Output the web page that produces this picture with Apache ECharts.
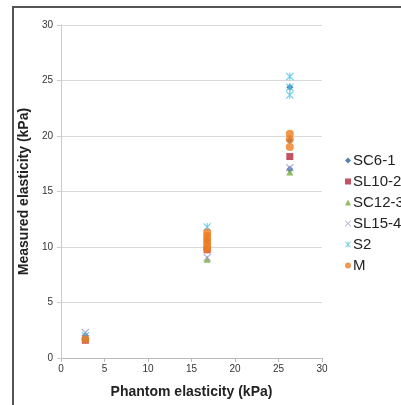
<!DOCTYPE html>
<html>
<head>
<meta charset="utf-8">
<script src="https://cdn.jsdelivr.net/npm/echarts@6/dist/echarts.min.js"></script>
<style>
html, body { margin: 0; padding: 0; background: #fff; }
#chart { width: 401px; height: 405px; }
</style>
</head>
<body>
<div id="chart"></div>
<script>
// phantom elasticity of each phantom (kPa)
var phantoms = [2.8, 16.8, 26.3];
var xTicks = [0, 5, 10, 15, 20, 25, 30];
var yTicks = [0, 5, 10, 15, 20, 25, 30];

// measured values, one list per phantom
var sc61 = [[2.0], [10.6], [19.6, 24.4, 17.0]];
var sl102 = [[1.6], [9.75], [18.15]];
var sc123 = [[1.8], [8.9], [16.75]];
var sl154 = [[2.3], [9.05], [17.15]];
var s2 = [[2.0], [11.8, 10.05], [25.35, 24.4, 23.7]];
var m = [[1.7], [11.3, 11.0, 10.7, 10.4, 10.1, 9.8], [20.2, 19.7, 19.0]];

function toPoints(vals){
	var pts = [];
	for (var i = 0; i < vals.length; i++) {
		for (var j = 0; j < vals[i].length; j++) {
			pts.push([phantoms[i], vals[i][j]]);
		}
	}
	return pts;
}

var crossPath = 'path://M0,1L1,0L5,4L9,0L10,1L6,5L10,9L9,10L5,6L1,10L0,9L4,5Z';
var starPath = 'path://M0,1L1,0L4.3,3.3L4.3,0L5.7,0L5.7,3.3L9,0L10,1L6,5L10,9L9,10L5.7,6.7L5.7,10L4.3,10L4.3,6.7L1,10L0,9L4,5Z';

var seriesDefs = [
	{name: 'SC6-1', data: sc61, symbol: 'diamond', color: '#2463a8', size: 7},
	{name: 'SL10-2', data: sl102, symbol: 'rect', color: '#b3283a', size: 7},
	{name: 'SC12-3', data: sc123, symbol: 'triangle', color: '#76ad3c', size: 7},
	{name: 'SL15-4', data: sl154, symbol: crossPath, color: '#9d94cc', size: 8},
	{name: 'S2', data: s2, symbol: starPath, color: '#4cc0e4', size: 8},
	{name: 'M', data: m, symbol: 'circle', color: '#ee7d22', size: 8}
];

var font = 'Arial, "Liberation Sans", sans-serif';
var chart = echarts.init(document.getElementById('chart'));

var series = seriesDefs.map(function(d){
	return {
		name: d.name,
		type: 'scatter',
		symbol: d.symbol,
		symbolSize: d.size,
		itemStyle: {color: d.color},
		data: toPoints(d.data)
	};
});

chart.setOption({
	animation: false,
	textStyle: {fontFamily: font},
	graphic: [{
		type: 'rect',
		shape: {x: 13, y: 7, width: 420, height: 420},
		style: {fill: 'none', stroke: '#555', lineWidth: 2},
		silent: true
	}],
	grid: {left: 61, right: 79, top: 25, bottom: 47},
	legend: {
		orient: 'vertical',
		left: 340,
		top: 148,
		itemWidth: 6,
		itemHeight: 6,
		itemGap: 6,
		textStyle: {fontSize: 15, color: '#222', fontFamily: font, padding: [0, 0, 0, -3]},
		data: seriesDefs.map(function(d){ return d.name; })
	},
	xAxis: {
		type: 'value',
		min: xTicks[0],
		max: xTicks[xTicks.length - 1],
		interval: 5,
		name: 'Phantom elasticity (kPa)',
		nameLocation: 'middle',
		nameGap: 27,
		nameTextStyle: {fontSize: 14, fontWeight: 'bold', color: '#222', fontFamily: font},
		axisLine: {lineStyle: {color: '#bbb'}},
		axisTick: {show: true, length: 4, lineStyle: {color: '#bbb'}},
		axisLabel: {fontSize: 10, color: '#333', margin: 6},
		splitLine: {show: false}
	},
	yAxis: {
		type: 'value',
		min: yTicks[0],
		max: yTicks[yTicks.length - 1],
		interval: 5,
		name: 'Measured elasticity (kPa)',
		nameLocation: 'middle',
		nameGap: 28,
		nameTextStyle: {fontSize: 14, fontWeight: 'bold', color: '#222', fontFamily: font},
		axisLine: {show: true, lineStyle: {color: '#ccc'}},
		axisTick: {show: true, length: 4, lineStyle: {color: '#ccc'}},
		axisLabel: {fontSize: 10, color: '#333', margin: 8},
		splitLine: {lineStyle: {color: '#d9d9d9', width: 1}}
	},
	series: series
});
</script>
</body>
</html>
